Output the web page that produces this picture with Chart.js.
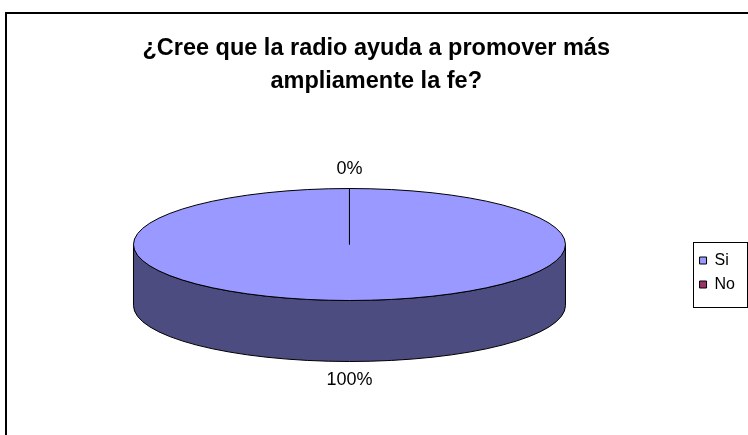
<!DOCTYPE html>
<html>
<head>
<meta charset="utf-8">
<script src="https://cdn.jsdelivr.net/npm/chart.js@4/dist/chart.umd.min.js"></script>
<style>
  html, body { margin: 0; padding: 0; background: #ffffff; }
  #wrap { width: 748px; height: 435px; position: relative; }
</style>
</head>
<body>
<div id="wrap"><canvas id="c"></canvas></div>
<script>
// ---- data ----
const titleLines = ['¿Cree que la radio ayuda a promover más', 'ampliamente la fe?'];
const categories = ['Si', 'No'];
const values = [100, 0];
const sliceColors = ['#9999FF', '#993366'];
const sideColors = ['#4C4C80', '#4D1A33'];

const FONT = "'Liberation Sans', Arial, sans-serif";

// frame around the whole chart + border around the legend
const framePlugin = {
  id: 'frame',
  beforeDraw(chart) {
    const ctx = chart.ctx;
    ctx.save();
    ctx.fillStyle = '#ffffff';
    ctx.fillRect(0, 0, chart.width, chart.height);
    ctx.strokeStyle = '#000000';
    ctx.lineWidth = 2;
    ctx.strokeRect(6, 13, chart.width + 20, chart.height + 20);
    ctx.restore();
  },
  afterDraw(chart) {
    const lg = chart.legend;
    if (!lg || !lg.legendHitBoxes || !lg.legendHitBoxes.length) return;
    const ctx = chart.ctx;
    const hb = lg.legendHitBoxes;
    const top = hb[0].top - 11;
    const last = hb[hb.length - 1];
    const bottom = last.top + last.height + 13.5;
    ctx.save();
    ctx.strokeStyle = '#000000';
    ctx.lineWidth = 1;
    ctx.strokeRect(Math.round(lg.left + 1) + 0.5, Math.round(top) + 0.5,
                   Math.round(lg.width + 1), Math.round(bottom - top));
    ctx.restore();
  }
};

// 3D pie drawing: uses the arc elements computed by Chart.js
const pie3dPlugin = {
  id: 'pie3d',
  beforeDatasetsDraw(chart, args, opts) {
    const ctx = chart.ctx;
    const meta = chart.getDatasetMeta(0);
    const arcs = meta.data;
    if (!arcs.length) return false;
    const k = opts.stretch, depth = opts.depth;
    const cx = arcs[0].x, cy = arcs[0].y, r = arcs[0].outerRadius;
    const rx = r * k, ry = r;
    ctx.save();
    ctx.lineWidth = 1;
    ctx.strokeStyle = '#000000';
    // side walls (front half only)
    arcs.forEach((arc, i) => {
      const s = arc.startAngle, e = arc.endAngle;
      if (e - s <= 0) return;
      [-2 * Math.PI, 0, 2 * Math.PI].forEach(base => {
        const a0 = Math.max(s, base), a1 = Math.min(e, base + Math.PI);
        if (a1 <= a0) return;
        ctx.beginPath();
        ctx.ellipse(cx, cy, rx, ry, 0, a0, a1);
        ctx.ellipse(cx, cy + depth, rx, ry, 0, a1, a0, true);
        ctx.closePath();
        ctx.fillStyle = sideColors[i];
        ctx.fill();
        ctx.stroke();
      });
    });
    // top faces, drawn by the arc elements in a stretched space
    ctx.save();
    ctx.translate(cx, cy);
    ctx.scale(k, 1);
    ctx.translate(-cx, -cy);
    arcs.forEach(arc => arc.draw(ctx));
    ctx.restore();
    // top outline
    ctx.beginPath();
    ctx.ellipse(cx, cy, rx, ry, 0, 0, Math.PI * 2);
    ctx.stroke();
    // slice boundaries
    arcs.forEach(arc => {
      const a = arc.startAngle;
      ctx.beginPath();
      ctx.moveTo(cx, cy);
      ctx.lineTo(cx + rx * Math.cos(a), cy + ry * Math.sin(a));
      ctx.stroke();
    });
    // percentage labels
    const total = values.reduce((p, v) => p + v, 0);
    ctx.fillStyle = '#000000';
    ctx.font = '18px ' + FONT;
    ctx.textAlign = 'center';
    ctx.textBaseline = 'middle';
    arcs.forEach((arc, i) => {
      const mid = (arc.startAngle + arc.endAngle) / 2;
      const off = opts.labelOffset;
      const sn = Math.sin(mid);
      const lx = cx + (rx + off) * Math.cos(mid);
      const ly = cy + (ry + off) * sn + (sn > 0.01 ? depth : 0);
      ctx.fillText(Math.round(values[i] / total * 100) + '%', lx, ly);
    });
    ctx.restore();
    return false;
  }
};

const baseLabels = Chart.overrides.doughnut.plugins.legend.labels.generateLabels;

new Chart(document.getElementById('c'), {
  type: 'pie',
  data: {
    labels: categories,
    datasets: [{
      data: values,
      backgroundColor: sliceColors,
      borderWidth: 0,
      hoverBorderWidth: 0,
      hoverOffset: 0
    }]
  },
  options: {
    responsive: true,
    maintainAspectRatio: false,
    animation: false,
    events: [],
    layout: { padding: { left: 7.4, right: 3, top: 0, bottom: 134.5 } },
    plugins: {
      tooltip: { enabled: false },
      title: {
        display: true,
        text: titleLines,
        color: '#000000',
        font: { family: FONT, size: 23.5, weight: 'bold', lineHeight: 33 / 23.5 },
        padding: { top: 32.4, bottom: 90.1 }
      },
      legend: {
        display: true,
        position: 'right',
        align: 'end',
        labels: {
          boxWidth: 7,
          boxHeight: 7,
          padding: 8,
          color: '#000000',
          font: { family: FONT, size: 16 },
          generateLabels(chart) {
            return baseLabels(chart).map(l => Object.assign(l, { strokeStyle: '#000000', lineWidth: 1 }));
          }
        }
      },
      pie3d: { stretch: 216 / 56, depth: 61, labelOffset: 19 }
    }
  },
  plugins: [framePlugin, pie3dPlugin]
});
</script>
</body>
</html>
